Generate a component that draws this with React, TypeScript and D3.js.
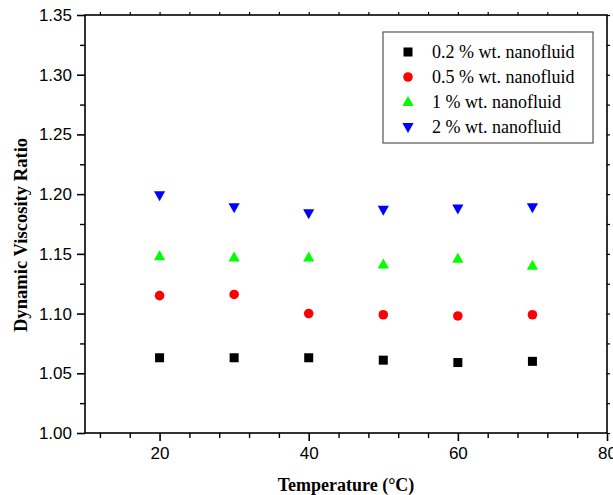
import React, { useEffect, useRef } from 'react';
import * as d3 from 'd3';

const temperatures = [20, 30, 40, 50, 60, 70];
const conc02 = [1.063, 1.063, 1.063, 1.061, 1.059, 1.060];
const conc05 = [1.115, 1.116, 1.100, 1.099, 1.098, 1.099];
const conc1 = [1.148, 1.147, 1.147, 1.141, 1.146, 1.140];
const conc2 = [1.199, 1.189, 1.184, 1.187, 1.188, 1.189];
const seriesNames = ['0.2 % wt. nanofluid', '0.5 % wt. nanofluid', '1 % wt. nanofluid', '2 % wt. nanofluid'];
const seriesColors = ['#000000', '#ff0000', '#00ff00', '#0000ff'];
const seriesShapes = ['square', 'circle', 'triangle', 'triangleDown'];
const xTicks = [20, 40, 60, 80];
const yTicks = [1.0, 1.05, 1.1, 1.15, 1.2, 1.25, 1.3, 1.35];

function App() {
  const ref = useRef<SVGSVGElement>(null);

  useEffect(() => {
    const svg = d3.select(ref.current);
    svg.selectAll('*').remove();

    const left = 85, right = 607, top = 15, bottom = 433;
    const x = d3.scaleLinear().domain([10, 80]).range([left, right]);
    const y = d3.scaleLinear().domain([1.0, 1.35]).range([bottom, top]);

    const allSeries = [conc02, conc05, conc1, conc2];

    // marker drawing
    const drawMarker = (g: any, shape: string, color: string, cx: number, cy: number) => {
      if (shape === 'square') {
        g.append('rect').attr('x', cx - 4.5).attr('y', cy - 4.5).attr('width', 9).attr('height', 9).attr('fill', color);
      } else if (shape === 'circle') {
        g.append('circle').attr('cx', cx).attr('cy', cy).attr('r', 4.8).attr('fill', color);
      } else if (shape === 'triangle') {
        g.append('path').attr('d', `M${cx},${cy - 6}L${cx + 5.6},${cy + 4}L${cx - 5.6},${cy + 4}Z`).attr('fill', color);
      } else {
        g.append('path').attr('d', `M${cx},${cy + 6}L${cx + 5.6},${cy - 4}L${cx - 5.6},${cy - 4}Z`).attr('fill', color);
      }
    };

    // frame
    svg.append('rect')
      .attr('x', left).attr('y', top)
      .attr('width', right - left).attr('height', bottom - top)
      .attr('fill', 'none').attr('stroke', '#000').attr('stroke-width', 1.6);

    // bottom axis
    const xAxis = svg.append('g').attr('transform', `translate(0,${bottom})`)
      .call(d3.axisBottom(x).tickValues(xTicks).tickSize(8).tickPadding(6).tickFormat(d3.format('d')));
    xAxis.select('.domain').remove();
    xAxis.selectAll('line').attr('stroke-width', 1.6);
    xAxis.selectAll('text').attr('font-family', 'Liberation Sans, Arial, sans-serif').attr('font-size', 17).attr('fill', '#000');
    const xMinor = d3.range(12, 80, 4).filter(v => !xTicks.includes(v));
    svg.append('g').attr('transform', `translate(0,${bottom})`)
      .call(d3.axisBottom(x).tickValues(xMinor).tickSize(5).tickFormat(() => ''))
      .call(g => g.select('.domain').remove())
      .selectAll('line').attr('stroke-width', 1.4);

    // top mirror ticks
    svg.append('g').attr('transform', `translate(0,${top})`)
      .call(d3.axisTop(x).tickValues(d3.range(12, 80, 4)).tickSize(3).tickFormat(() => ''))
      .call(g => g.select('.domain').remove())
      .selectAll('line').attr('stroke-width', 1.2);

    // left axis
    const yAxis = svg.append('g').attr('transform', `translate(${left},0)`)
      .call(d3.axisLeft(y).tickValues(yTicks).tickSize(8).tickPadding(5).tickFormat(d3.format('.2f')));
    yAxis.select('.domain').remove();
    yAxis.selectAll('line').attr('stroke-width', 1.6);
    yAxis.selectAll('text').attr('font-family', 'Liberation Sans, Arial, sans-serif').attr('font-size', 17).attr('fill', '#000');
    const yMinor = d3.range(0, 7).map(i => 1.025 + i * 0.05);
    svg.append('g').attr('transform', `translate(${left},0)`)
      .call(d3.axisLeft(y).tickValues(yMinor).tickSize(5).tickFormat(() => ''))
      .call(g => g.select('.domain').remove())
      .selectAll('line').attr('stroke-width', 1.4);

    // right mirror ticks
    svg.append('g').attr('transform', `translate(${right},0)`)
      .call(d3.axisRight(y).tickValues(d3.range(0, 15).map(i => 1.0 + i * 0.025)).tickSize(3).tickFormat(() => ''))
      .call(g => g.select('.domain').remove())
      .selectAll('line').attr('stroke-width', 1.2);

    // axis titles
    svg.append('text')
      .attr('x', (left + right) / 2).attr('y', 491)
      .attr('text-anchor', 'middle')
      .attr('font-family', 'Liberation Serif, Times New Roman, serif')
      .attr('font-weight', 'bold').attr('font-size', 18)
      .text('Temperature (°C)');

    svg.append('text')
      .attr('transform', `translate(27,235) rotate(-90)`)
      .attr('text-anchor', 'middle')
      .attr('font-family', 'Liberation Serif, Times New Roman, serif')
      .attr('font-weight', 'bold').attr('font-size', 18.6)
      .text('Dynamic Viscosity Ratio');

    // data points
    allSeries.forEach((vals, si) => {
      const g = svg.append('g');
      vals.forEach((v, i) => drawMarker(g, seriesShapes[si], seriesColors[si], x(temperatures[i]), y(v)));
    });

    // legend
    const lg = svg.append('g');
    lg.append('rect').attr('x', 383).attr('y', 32).attr('width', 210).attr('height', 111)
      .attr('fill', '#fff').attr('stroke', '#555').attr('stroke-width', 1.2);
    seriesNames.forEach((name, si) => {
      const cy = 52 + si * 25;
      drawMarker(lg, seriesShapes[si], seriesColors[si], 408, cy);
      lg.append('text').attr('x', 432).attr('y', cy + 6)
        .attr('font-family', 'Liberation Serif, Times New Roman, serif')
        .attr('font-size', 18).text(name);
    });
  }, []);

  return (
    <svg ref={ref} width={613} height={495}
      style={{ position: 'absolute', left: 0, top: 0, background: '#fff' }} />
  );
}

export default App;
